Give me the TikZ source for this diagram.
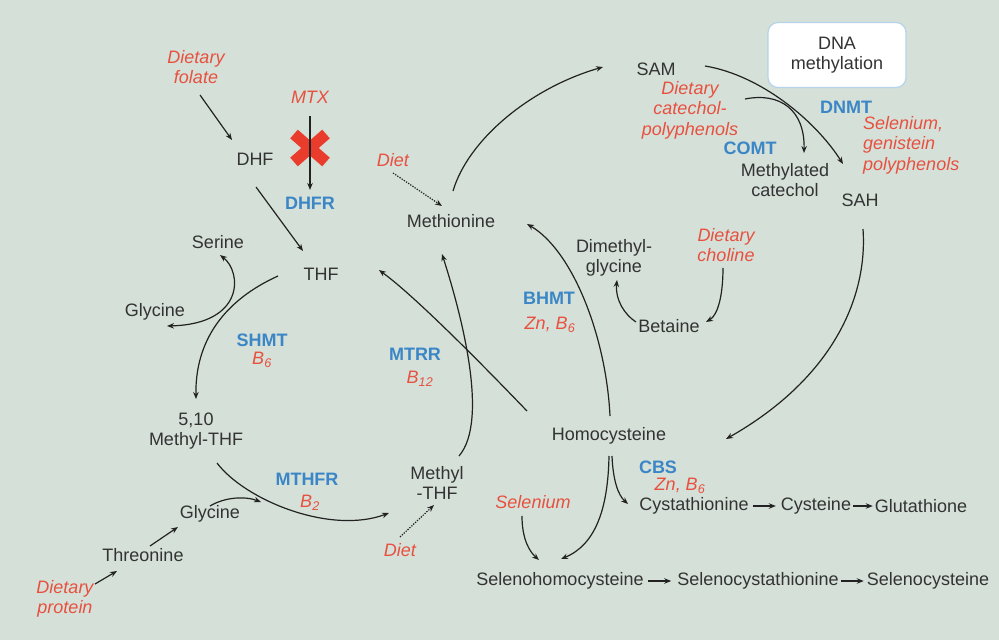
\documentclass[tikz,border=0pt]{standalone}
\usepackage{fontspec}
\setmainfont{Liberation Sans}
\usetikzlibrary{arrows.meta,calc}
\definecolor{bgc}{HTML}{D5E0D8}
\definecolor{redc}{HTML}{E8503F}
\definecolor{xred}{HTML}{EA3C2C}
\definecolor{bluec}{HTML}{3A86C6}
\definecolor{txtc}{HTML}{333333}
\definecolor{linec}{HTML}{222222}
\definecolor{boxc}{HTML}{B5D3EA}
\begin{document}
\begin{tikzpicture}[x=1pt,y=-1pt,
  lbl/.style={inner sep=0pt, align=center, text=txtc, font=\fontsize{18}{20.5}\selectfont},
  diet/.style={lbl, text=redc, font=\fontsize{18}{20.5}\selectfont\itshape},
  enz/.style={lbl, text=bluec, font=\fontsize{18}{20.5}\selectfont\bfseries},
  arr/.style={draw=linec, line width=1.2pt, -{Stealth[length=7pt,width=5.5pt]}},
  dotarr/.style={arr, dash pattern=on 1.3pt off 1.3pt}]
\useasboundingbox (0,0) rectangle (999,642);
\fill[bgc] (0,0) rectangle (999,642);
\fill[white] (0,639.5) rectangle (999,642);

% ---------- labels ----------
\node[diet] (folate) at (196,67) {Dietary\\folate};
\node[diet] (mtx) at (310,97) {MTX};
\node[lbl] (dhf) at (255,159) {DHF};
\node[enz] (dhfr) at (310,203) {DHFR};
\node[lbl] (thf) at (321,274) {THF};
\node[lbl] (serine) at (218,242) {Serine};
\node[lbl] (gly1) at (155,312) {Glycine};
\node[enz] (shmt) at (262,340) {SHMT};
\node[diet] (b6a) at (262,360) {B\textsubscript{6}};
\node[lbl] (mthf510) at (196,431) {5,10\\Methyl-THF};
\node[enz] (mthfr) at (307,479) {MTHFR};
\node[diet] (b2) at (310,503) {B\textsubscript{2}};
\node[lbl] (gly2) at (210,514) {Glycine};
\node[lbl] (thr) at (143,555) {Threonine};
\node[diet] (protein) at (65,599) {Dietary\\protein};
\node[lbl] (methylthf) at (437,483) {Methyl\\-THF};
\node[diet] (diet2) at (400,550) {Diet};
\node[enz] (mtrr) at (415,354) {MTRR};
\node[diet] (b12) at (420,379) {B\textsubscript{12}};
\node[lbl] (met) at (451,221) {Methionine};
\node[diet] (diet1) at (393,160) {Diet};
\node[lbl] (sam) at (656,69) {SAM};
\node[lbl, fill=white, draw=boxc, line width=1.2pt, rounded corners=10pt,
      minimum width=138pt, minimum height=65pt] (dna) at (837,55) {DNA\\methylation};
\node[diet] (catechol) at (690,110) {Dietary\\catechol-\\polyphenols};
\node[enz] (comt) at (750,148) {COMT};
\node[lbl] (methcat) at (785,180) {Methylated\\catechol};
\node[enz] (dnmt) at (846,107) {DNMT};
\node[diet, align=left, anchor=west] (selgen) at (863,145) {Selenium,\\genistein\\polyphenols};
\node[lbl] (sah) at (860,200) {SAH};
\node[lbl] (dmg) at (614,258) {Dimethyl-\\glycine};
\node[diet] (choline) at (726,245) {Dietary\\choline};
\node[lbl] (betaine) at (669,326) {Betaine};
\node[enz] (bhmt) at (549,298) {BHMT};
\node[diet] (znb6a) at (550,325) {Zn, B\textsubscript{6}};
\node[lbl] (hcy) at (609,436) {Homocysteine};
\node[enz] (cbs) at (658,467) {CBS};
\node[diet] (znb6b) at (680,486) {Zn, B\textsubscript{6}};
\node[lbl] (cysta) at (694,506) {Cystathionine};
\node[lbl] (cys) at (816,506) {Cysteine};
\node[lbl] (glut) at (921,506) {Glutathione};
\node[diet] (selenium) at (533,502) {Selenium};
\node[lbl] (shcy) at (560,581) {Selenohomocysteine};
\node[lbl] (scysta) at (758,581) {Selenocystathionine};
\node[lbl] (scys) at (928,581) {Selenocysteine};

% ---------- red cross ----------
\coordinate (xc) at (310,148);
\draw[xred, line width=11.5pt] ($(xc)+(-16,-14)$) -- ($(xc)+(16,14)$);
\draw[xred, line width=11.5pt] ($(xc)+(16,-14)$) -- ($(xc)+(-16,14)$);

% ---------- connector end points ----------
\coordinate (a1) at (200,95);   \coordinate (a2) at (232,140);
\coordinate (b1) at (256,187);  \coordinate (b2) at (303,251);
\coordinate (m1) at (310,116);  \coordinate (m2) at (310,190);
\coordinate (c1) at (278,276);  \coordinate (c2) at (196,399);
\coordinate (s1) at (220,255);  \coordinate (s2) at (167,326);
\coordinate (d1) at (217,463);  \coordinate (d2) at (389,513);
\coordinate (g1) at (210,506);  \coordinate (g2) at (261,502);
\coordinate (t1) at (150,546);  \coordinate (t2) at (178,527);
\coordinate (p1) at (95,584);   \coordinate (p2) at (117,571);
\coordinate (e1) at (400,537);  \coordinate (e2) at (434,505);
\coordinate (f1) at (459,456);  \coordinate (f2) at (442,254);
\coordinate (h1) at (527,411);  \coordinate (h2) at (379,270);
\coordinate (k1) at (610,416);  \coordinate (k2) at (527,224);
\coordinate (n1) at (453,191);  \coordinate (n2) at (603,67);
\coordinate (q1) at (705,66);   \coordinate (q2) at (843,164);
\coordinate (r1) at (745,99);   \coordinate (r2) at (804,153);
\coordinate (u1) at (863,229);  \coordinate (u2) at (726,439);
\coordinate (v1) at (723,268);  \coordinate (v2) at (706,322);
\coordinate (w1) at (636,322);  \coordinate (w2) at (617,280);
\coordinate (y1) at (612,456);  \coordinate (y2) at (628,504);
\coordinate (z1) at (609,456);  \coordinate (z2) at (561,559);
\coordinate (l1) at (522,516);  \coordinate (l2) at (539,560);
\coordinate (o1) at (393,173);  \coordinate (o2) at (442,206);

% ---------- connectors ----------
\draw[arr] (a1) -- (a2);
\draw[arr] (b1) -- (b2);
\draw[arr] (m1) -- (m2);
\draw[arr] (c1) .. controls (225,300) and (195,340) .. (c2);
\draw[draw=linec, line width=1.2pt, {Stealth[length=7pt,width=5.5pt]}-{Stealth[length=7pt,width=5.5pt]}]
  (s1) .. controls (242,272) and (245,324) .. (s2);
\draw[arr] (d1) .. controls (245,500) and (330,535) .. (d2);
\draw[arr] (g1) .. controls (225,497) and (245,496) .. (g2);
\draw[arr] (t1) -- (t2);
\draw[arr] (p1) -- (p2);
\draw[dotarr] (e1) -- (e2);
\draw[arr] (f1) .. controls (490,420) and (460,310) .. (f2);
\draw[arr] (h1) .. controls (500,383) and (420,300) .. (h2);
\draw[arr] (k1) .. controls (606,335) and (572,250) .. (k2);
\draw[arr] (n1) .. controls (468,140) and (530,88) .. (n2);
\draw[arr] (q1) .. controls (760,75) and (815,120) .. (q2);
\draw[arr] (r1) .. controls (780,92) and (805,110) .. (r2);
\draw[arr] (u1) .. controls (868,300) and (830,380) .. (u2);
\draw[arr] (v1) .. controls (723,295) and (718,315) .. (v2);
\draw[arr] (w1) .. controls (625,315) and (615,300) .. (w2);
\draw[arr] (y1) .. controls (613,480) and (618,495) .. (y2);
\draw[arr] (z1) .. controls (608,510) and (595,545) .. (z2);
\draw[arr] (l1) .. controls (522,540) and (530,552) .. (l2);
\draw[dotarr] (o1) -- (o2);
\draw[arr, shorten <=4pt, shorten >=5pt] (cysta) -- (cys);
\draw[arr, shorten <=2pt, shorten >=2pt] (cys) -- (glut);
\draw[arr, shorten <=4pt, shorten >=6pt] (shcy) -- (scysta);
\draw[arr, shorten <=2pt, shorten >=3pt] (scysta) -- (scys);
\end{tikzpicture}
\end{document}
